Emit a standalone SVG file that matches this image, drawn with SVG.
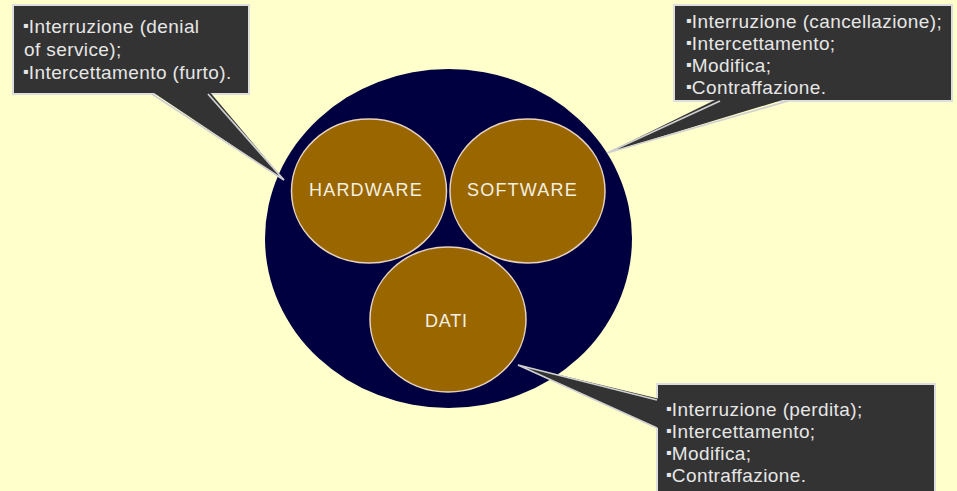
<svg xmlns="http://www.w3.org/2000/svg" width="957" height="491" viewBox="0 0 957 491">
  <style>
    .note { fill: #333333; stroke: #dedede; stroke-width: 2; }
    .txt { font-family: "Liberation Sans", Arial, sans-serif; font-size: 19px; letter-spacing: 0.4px; fill: #e6e6e6; }
    .b { font-family: "DejaVu Sans", sans-serif; font-size: 8px; }
    .part { fill: #996600; stroke: #e6d2c0; stroke-width: 1.5; }
    .lbl { font-family: "Liberation Sans", Arial, sans-serif; font-size: 18px; letter-spacing: 1.2px; fill: #f4f0e0; }
    .tail { fill: #333333; stroke: none; }
    .edge { fill: none; stroke: #d0d0d0; stroke-width: 1.8; }
  </style>
  <rect width="957" height="491" fill="#FFFFCC"/>

  <!-- system boundary -->
  <g id="sistema">
    <ellipse cx="448.5" cy="238.5" rx="183.5" ry="169.5" fill="#000040"/>
  </g>

  <g id="hardware">
    <ellipse class="part" cx="369" cy="191" rx="77.5" ry="72"/>
    <text class="lbl" x="309" y="196">HARDWARE</text>
  </g>
  <g id="software">
    <ellipse class="part" cx="527.5" cy="191" rx="77.5" ry="72"/>
    <text class="lbl" x="467" y="196">SOFTWARE</text>
  </g>
  <g id="dati">
    <ellipse class="part" cx="448" cy="319.5" rx="78" ry="72.5"/>
    <text class="lbl" x="425" y="327" style="letter-spacing:0.8px">DATI</text>
  </g>

  <!-- threat notes -->
  <g id="nota-hardware">
    <rect class="note" x="13" y="5" width="236" height="89"/>
    <text class="txt" x="23" y="33"><tspan class="b" dy="-5">▪</tspan><tspan dy="5">Interruzione (denial</tspan></text>
    <text class="txt" x="24" y="56">of service);</text>
    <text class="txt" x="23" y="79"><tspan class="b" dy="-5">▪</tspan><tspan dy="5">Intercettamento (furto).</tspan></text>
  </g>
  <g id="nota-software">
    <rect class="note" x="674" y="5" width="278" height="96"/>
    <text class="txt" x="686" y="28"><tspan class="b" dy="-5">▪</tspan><tspan dy="5">Interruzione (cancellazione);</tspan></text>
    <text class="txt" x="686" y="50"><tspan class="b" dy="-5">▪</tspan><tspan dy="5">Intercettamento;</tspan></text>
    <text class="txt" x="686" y="72"><tspan class="b" dy="-5">▪</tspan><tspan dy="5">Modifica;</tspan></text>
    <text class="txt" x="686" y="94"><tspan class="b" dy="-5">▪</tspan><tspan dy="5">Contraffazione.</tspan></text>
  </g>
  <g id="nota-dati">
    <rect class="note" x="657" y="384" width="278" height="112"/>
    <text class="txt" x="666" y="416"><tspan class="b" dy="-5">▪</tspan><tspan dy="5">Interruzione (perdita);</tspan></text>
    <text class="txt" x="666" y="438"><tspan class="b" dy="-5">▪</tspan><tspan dy="5">Intercettamento;</tspan></text>
    <text class="txt" x="666" y="460"><tspan class="b" dy="-5">▪</tspan><tspan dy="5">Modifica;</tspan></text>
    <text class="txt" x="666" y="482"><tspan class="b" dy="-5">▪</tspan><tspan dy="5">Contraffazione.</tspan></text>
  </g>

  <!-- callout pointers -->
  <g id="connectors">
    <path class="tail" d="M151,91 L284,180 L209,91 Z"/>
    <path class="edge" d="M152,94 L284,180 L208,94"/>
    <path class="tail" d="M719,98 L607,153 L789,98 Z"/>
    <path class="edge" d="M720,101 L607,153 L788,101"/>
    <path class="tail" d="M660,399 L518,365 L660,429 Z"/>
    <path class="edge" d="M657,400 L518,365 L657,428"/>
  </g>
</svg>
